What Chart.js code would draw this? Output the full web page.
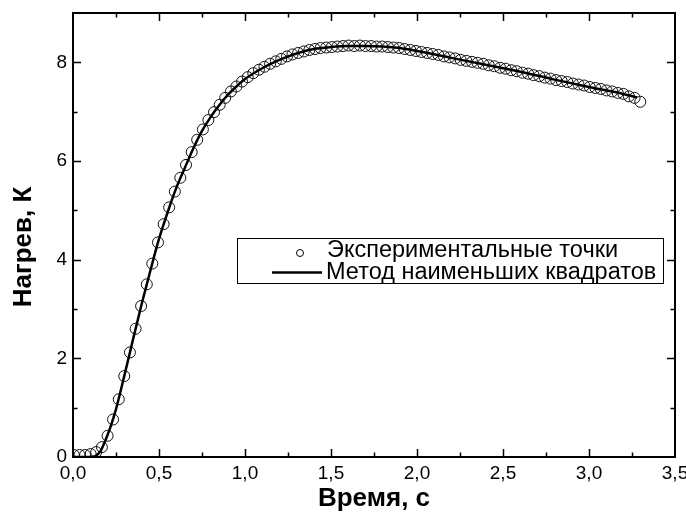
<!DOCTYPE html>
<html>
<head>
<meta charset="utf-8">
<title>Нагрев</title>
<script src="https://cdn.jsdelivr.net/npm/chart.js"></script>
<style>
    html, body { margin: 0; padding: 0; background: #fff; }
    #wrap { width: 686px; height: 516px; }
</style>
</head>
<body>
<div id="wrap"><canvas id="chart" width="686" height="516"></canvas></div>
<script>
// Экспериментальные точки: время, с
const pointTime = [
    0.005, 0.038, 0.070, 0.103, 0.135, 0.168, 0.201, 0.233, 0.266, 0.298,
    0.331, 0.364, 0.396, 0.429, 0.461, 0.494, 0.527, 0.559, 0.592, 0.624,
    0.657, 0.690, 0.722, 0.755, 0.787, 0.820, 0.853, 0.885, 0.918, 0.950,
    0.983, 1.016, 1.048, 1.081, 1.113, 1.146, 1.179, 1.211, 1.244, 1.276,
    1.309, 1.342, 1.374, 1.407, 1.439, 1.472, 1.505, 1.537, 1.570, 1.602,
    1.635, 1.668, 1.700, 1.733, 1.765, 1.798, 1.831, 1.863, 1.896, 1.928,
    1.961, 1.994, 2.026, 2.059, 2.091, 2.124, 2.157, 2.189, 2.222, 2.254,
    2.287, 2.320, 2.352, 2.385, 2.417, 2.450, 2.483, 2.515, 2.548, 2.580,
    2.613, 2.646, 2.678, 2.711, 2.743, 2.776, 2.809, 2.841, 2.874, 2.906,
    2.939, 2.972, 3.004, 3.037, 3.069, 3.102, 3.135, 3.167, 3.200, 3.232,
    3.265, 3.298
];

// Экспериментальные точки: нагрев, К
const pointHeat = [
    0.04, 0.04, 0.04, 0.06, 0.10, 0.20, 0.43, 0.76, 1.17, 1.64,
    2.12, 2.60, 3.06, 3.50, 3.92, 4.35, 4.72, 5.06, 5.38, 5.66,
    5.92, 6.18, 6.43, 6.64, 6.83, 6.99, 7.14, 7.28, 7.41, 7.51,
    7.61, 7.70, 7.78, 7.85, 7.91, 7.97, 8.02, 8.07, 8.12, 8.16,
    8.19, 8.22, 8.25, 8.27, 8.29, 8.30, 8.31, 8.32, 8.33, 8.34,
    8.33, 8.34, 8.33, 8.33, 8.32, 8.32, 8.31, 8.30, 8.29, 8.27,
    8.25, 8.23, 8.21, 8.19, 8.17, 8.15, 8.12, 8.10, 8.08, 8.05,
    8.03, 8.01, 7.99, 7.97, 7.94, 7.92, 7.89, 7.87, 7.84, 7.82,
    7.79, 7.77, 7.74, 7.72, 7.69, 7.67, 7.64, 7.62, 7.60, 7.57,
    7.55, 7.53, 7.50, 7.48, 7.46, 7.43, 7.41, 7.38, 7.36, 7.31,
    7.28, 7.20
];

// Аппроксимация методом наименьших квадратов
const fitTime = [
    0.00, 0.05, 0.10, 0.13, 0.16, 0.19, 0.22, 0.25, 0.30, 0.35,
    0.40, 0.45, 0.50, 0.55, 0.60, 0.65, 0.70, 0.75, 0.80, 0.85,
    0.90, 0.95, 1.00, 1.10, 1.20, 1.30, 1.40, 1.50, 1.60, 1.70,
    1.80, 1.90, 2.00, 2.20, 2.40, 2.60, 2.80, 3.00, 3.20, 3.28
];
const fitHeat = [
    0.00, 0.00, 0.00, 0.02, 0.12, 0.35, 0.63, 0.97, 1.67, 2.40,
    3.11, 3.78, 4.42, 4.96, 5.45, 5.86, 6.26, 6.61, 6.89, 7.13,
    7.34, 7.51, 7.66, 7.88, 8.05, 8.18, 8.27, 8.31, 8.33, 8.33,
    8.32, 8.29, 8.23, 8.09, 7.95, 7.81, 7.65, 7.50, 7.36, 7.29
];

const legendLabels = ['Экспериментальные точки', 'Метод наименьших квадратов'];
const xTitle = 'Время, с';
const yTitle = 'Нагрев, К';

const FONT = '"Liberation Sans", Arial, Helvetica, sans-serif';

function toXY(xs, ys) {
    return xs.map((x, i) => ({ x: x, y: ys[i] }));
}

// рамка, засечки внутрь, подписи осей и легенда
const framePlugin = {
    id: 'frame',
    afterDraw(chart) {
        const ctx = chart.ctx;
        const a = chart.chartArea;
        const sx = chart.scales.x;
        const sy = chart.scales.y;
        ctx.save();
        ctx.strokeStyle = '#000';

        ctx.lineWidth = 1.5;
        ctx.beginPath();
        const major = 8, minor = 4.5;
        for (let v = 0.25; v < 3.5; v += 0.25) {
            const px = Math.round(sx.getPixelForValue(v)) + 0.5;
            const len = Math.abs(v / 0.5 - Math.round(v / 0.5)) < 1e-6 ? major : minor;
            ctx.moveTo(px, a.bottom); ctx.lineTo(px, a.bottom - len);
            ctx.moveTo(px, a.top); ctx.lineTo(px, a.top + len);
        }
        for (let v = 1; v < 9; v += 1) {
            const py = Math.round(sy.getPixelForValue(v)) + 0.5;
            const len = v % 2 === 0 ? major : minor;
            ctx.moveTo(a.left, py); ctx.lineTo(a.left + len, py);
            ctx.moveTo(a.right, py); ctx.lineTo(a.right - len, py);
        }
        ctx.stroke();

        ctx.lineWidth = 2;
        ctx.strokeRect(a.left, a.top, a.right - a.left, a.bottom - a.top);

        // подписи осей
        ctx.fillStyle = '#000';
        ctx.font = 'bold 26px ' + FONT;
        ctx.textAlign = 'center';
        ctx.textBaseline = 'alphabetic';
        ctx.fillText(xTitle, (a.left + a.right) / 2, 506);
        ctx.save();
        ctx.translate(31, 247);
        ctx.rotate(-Math.PI / 2);
        ctx.fillText(yTitle, 0, 0);
        ctx.restore();

        // легенда
        ctx.lineWidth = 1;
        ctx.strokeRect(237.5, 238.5, 426, 45);
        ctx.beginPath();
        ctx.arc(300, 253, 3.5, 0, Math.PI * 2);
        ctx.stroke();
        ctx.lineWidth = 2.5;
        ctx.beginPath();
        ctx.moveTo(272, 272.5);
        ctx.lineTo(322, 272.5);
        ctx.stroke();
        ctx.font = '23.5px ' + FONT;
        ctx.textAlign = 'left';
        ctx.fillText(legendLabels[0], 327, 257);
        ctx.fillText(legendLabels[1], 326, 279);
        ctx.restore();
    }
};

new Chart(document.getElementById('chart'), {
    type: 'scatter',
    data: {
        datasets: [
            {
                label: legendLabels[1],
                data: toXY(fitTime, fitHeat),
                showLine: true,
                borderColor: '#000',
                borderWidth: 2.5,
                pointRadius: 0,
                tension: 0.4,
                cubicInterpolationMode: 'monotone',
                fill: false
            },
            {
                label: legendLabels[0],
                data: toXY(pointTime, pointHeat),
                showLine: false,
                pointStyle: 'circle',
                pointRadius: 5.5,
                borderWidth: 1,
                borderColor: '#111',
                backgroundColor: 'rgba(0,0,0,0)'
            }
        ]
    },
    options: {
        responsive: false,
        animation: false,
        devicePixelRatio: 1,
        layout: { padding: { top: 13, right: 11, left: 0, bottom: 0 } },
        plugins: {
            legend: { display: false },
            tooltip: { enabled: false }
        },
        scales: {
            x: {
                type: 'linear',
                min: 0,
                max: 3.5,
                grid: { display: false, drawTicks: false },
                border: { display: false },
                ticks: {
                    stepSize: 0.5,
                    includeBounds: false,
                    padding: 5,
                    color: '#000',
                    font: { family: FONT, size: 19 },
                    maxRotation: 0,
                    callback: v => v.toFixed(1).replace('.', ',')
                },
                afterFit(scale) {
                    scale.height = 59;
                    scale.paddingLeft = 0;
                    scale.paddingRight = 0;
                }
            },
            y: {
                type: 'linear',
                min: 0,
                max: 9,
                grid: { display: false, drawTicks: false },
                border: { display: false },
                ticks: {
                    stepSize: 2,
                    includeBounds: false,
                    padding: 6,
                    color: '#000',
                    font: { family: FONT, size: 19 },
                    callback: v => String(v)
                },
                afterFit(scale) {
                    scale.width = 73;
                    scale.paddingTop = 0;
                    scale.paddingBottom = 0;
                }
            }
        }
    },
    plugins: [framePlugin]
});
</script>
</body>
</html>
